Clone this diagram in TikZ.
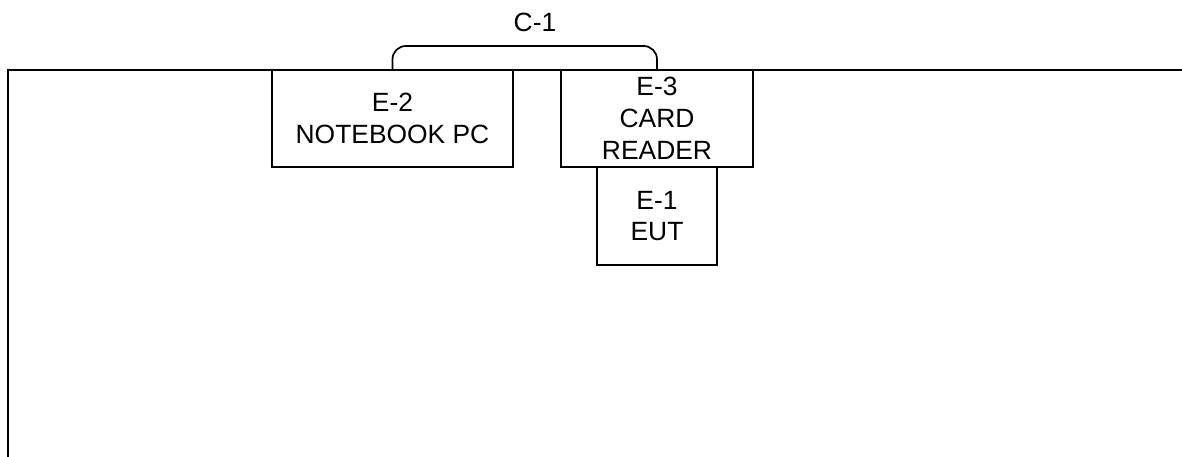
\documentclass[tikz,border=0pt]{standalone}
\usepackage{fontspec}
\setmainfont{Liberation Sans}
\usetikzlibrary{positioning}

\begin{document}
\begin{tikzpicture}[x=0.75pt, y=-0.75pt]
    \tikzset{unit/.style={draw, line width=1.3pt, align=center, inner sep=0pt, outer sep=0pt,
                          font=\fontsize{19.8}{23.8}\selectfont}}
    \useasboundingbox (0, 0) rectangle (1182, 457);
    % edge of the table
    \draw[line width=1.3pt] (8, 457) -- (8, 70) -- (1190, 70);
    \node[unit, minimum width=180.75pt, minimum height=72.75pt] (e2) at (392.5, 118.5) {E-2\\NOTEBOOK PC};
    \node[unit, minimum width=144pt, minimum height=72.75pt] (e3) at (657, 118.5) {E-3\\CARD\\READER};
    \node[unit, minimum width=90pt, minimum height=73.5pt, below=0pt of e3] (e1) {E-1\\EUT};
    % cable between the PC and the reader
    \draw[line width=1.3pt, rounded corners=10pt] (e2.north) -- ++(0, -24) -| (e3.north);
    \node[font=\fontsize{19.8}{23.8}\selectfont] (c1) at (535, 22) {C-1};
\end{tikzpicture}
\end{document}
